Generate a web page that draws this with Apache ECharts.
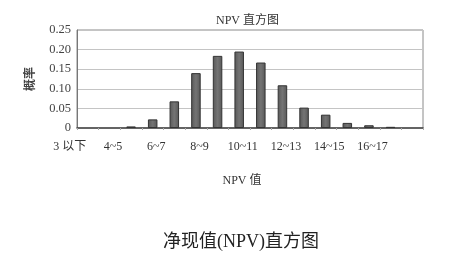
<!DOCTYPE html>
<html>
<head>
<meta charset="utf-8">
<script src="https://cdn.jsdelivr.net/npm/echarts@6/dist/echarts.min.js"></script>
<style>html,body{margin:0;padding:0;background:#fff;}#c{width:450px;height:254px;}</style>
</head>
<body>
<div id="c"></div>
<script>
var categories = ['3以下','3~4','4~5','5~6','6~7','7~8','8~9','9~10','10~11','11~12','12~13','13~14','14~15','15~16','16~17','17以上'];
var tickLabels = {'3以下':'3 以下','4~5':'4~5','6~7':'6~7','8~9':'8~9','10~11':'10~11','12~13':'12~13','14~15':'14~15','16~17':'16~17'};
var probability = [0, 0, 0.004, 0.022, 0.068, 0.14, 0.184, 0.195, 0.167, 0.109, 0.052, 0.034, 0.013, 0.007, 0.003, 0];
var yTicks = [0, 0.05, 0.10, 0.15, 0.20, 0.25];
var chartTitle = 'NPV 直方图';
var xName = 'NPV 值';
var yName = '概率';
var caption = '净现值(NPV)直方图';

var serif = '"Liberation Serif","DejaVu Serif","Noto Sans CJK SC",serif';
var chart = echarts.init(document.getElementById('c'));
chart.setOption({
  backgroundColor: '#ffffff',
  animation: false,
  title: [
    {text: chartTitle, left: 211, top: 10, textStyle: {fontFamily: serif, fontSize: 12, fontWeight: 'normal', color: '#333'}},
    {text: caption, left: 158, top: 228, textStyle: {fontFamily: serif, fontSize: 18, fontWeight: 'normal', color: '#222'}}
  ],
  grid: {left: 77, right: 27, top: 30, height: 98, show: true, borderColor: '#8a8a8a', borderWidth: 1},
  xAxis: {
    type: 'category',
    data: categories,
    name: xName,
    nameLocation: 'middle',
    nameGap: 47,
    nameTextStyle: {fontFamily: serif, fontSize: 12, color: '#333', padding: [0, 16, 0, 0]},
    axisLine: {lineStyle: {color: '#444', width: 1.5}},
    axisTick: {show: true, interval: 0, length: 2, lineStyle: {color: '#aaa'}},
    axisLabel: {
      interval: 1,
      margin: 13,
      fontFamily: serif,
      fontSize: 12,
      color: '#333',
      padding: [0, 36, 0, 0],
      formatter: function (v) { return tickLabels[v] || ''; }
    }
  },
  yAxis: {
    type: 'value',
    min: 0,
    max: 0.25,
    interval: 0.05,
    name: yName,
    nameLocation: 'middle',
    nameRotate: 90,
    nameGap: 42,
    nameTextStyle: {fontFamily: '"Noto Sans CJK SC",sans-serif', fontSize: 12, fontWeight: 'bold', color: '#444'},
    axisLine: {show: true, lineStyle: {color: '#777'}},
    axisTick: {show: false},
    splitLine: {lineStyle: {color: '#c4c4c4'}},
    axisLabel: {
      margin: 6,
      fontFamily: serif,
      fontSize: 12.5,
      color: '#444',
      formatter: function (v) {
        var i = yTicks.findIndex(function (t) { return Math.abs(t - v) < 1e-9; });
        return i === 0 ? '0' : yTicks[i].toFixed(2);
      }
    }
  },
  series: [{
    type: 'bar',
    data: probability.map(function (v) { return v > 0 ? v : '-'; }),
    barWidth: '44%',
    itemStyle: {
      color: new echarts.graphic.LinearGradient(0, 0, 1, 0, [
        {offset: 0, color: '#585858'},
        {offset: 0.5, color: '#747474'},
        {offset: 1, color: '#585858'}
      ]),
      borderColor: '#333',
      borderWidth: 1
    }
  }]
});
</script>
</body>
</html>
